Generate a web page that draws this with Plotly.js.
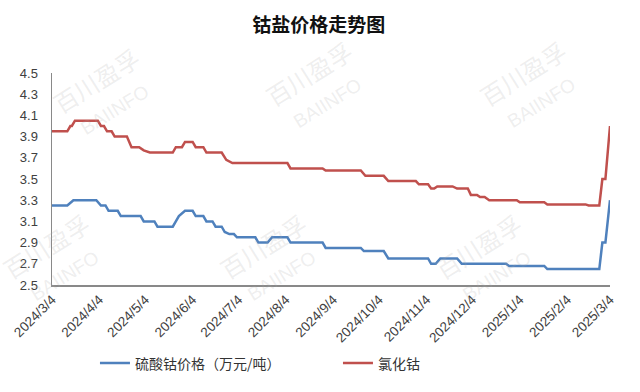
<!DOCTYPE html>
<html>
<head>
<meta charset="utf-8">
<script src="https://cdn.plot.ly/plotly-3.0.1.min.js"></script>
<style>
  html, body { margin: 0; padding: 0; background: #ffffff; }
  #chart { width: 640px; height: 392px; }
</style>
</head>
<body>
<div id="chart"></div>
<script>
// ---- Data ----
const chartTitle = "钴盐价格走势图";

const seriesNames = ["硫酸钴价格（万元/吨）", "氯化钴"];

// 硫酸钴 (cobalt sulfate) – change points
const sulfateDates = [
  "2024-03-04","2024-03-14","2024-03-18","2024-04-02","2024-04-05","2024-04-08",
  "2024-04-10","2024-04-16","2024-04-18","2024-05-01","2024-05-03","2024-05-10",
  "2024-05-12","2024-05-22","2024-05-24","2024-05-26","2024-05-30","2024-06-04",
  "2024-06-06","2024-06-11","2024-06-13","2024-06-17","2024-06-19","2024-06-23",
  "2024-06-25","2024-06-28","2024-07-01","2024-07-03","2024-07-15","2024-07-17",
  "2024-07-23","2024-07-26","2024-08-05","2024-08-07","2024-08-28","2024-08-30",
  "2024-09-22","2024-09-24","2024-10-07","2024-10-10","2024-11-05","2024-11-07",
  "2024-11-10","2024-11-13","2024-11-24","2024-11-27","2024-12-26","2024-12-28",
  "2025-01-20","2025-01-22","2025-02-25","2025-02-27","2025-03-01","2025-03-04"
];
const sulfateValues = [
  3.25,3.25,3.30,3.30,3.25,3.25,
  3.20,3.20,3.15,3.15,3.10,3.10,
  3.05,3.05,3.10,3.15,3.20,3.20,
  3.15,3.15,3.10,3.10,3.05,3.05,
  3.00,2.98,2.98,2.95,2.95,2.90,
  2.90,2.95,2.95,2.90,2.90,2.85,
  2.85,2.82,2.82,2.75,2.75,2.70,
  2.70,2.75,2.75,2.70,2.70,2.68,
  2.68,2.65,2.65,2.90,2.90,3.30
];

// 氯化钴 (cobalt chloride) – change points
const chlorideDates = [
  "2024-03-04","2024-03-14","2024-03-16","2024-03-17","2024-03-19","2024-04-03",
  "2024-04-05","2024-04-07","2024-04-09","2024-04-12","2024-04-14","2024-04-22",
  "2024-04-25","2024-04-30","2024-05-03","2024-05-07","2024-05-22","2024-05-24",
  "2024-05-28","2024-05-30","2024-06-04","2024-06-06","2024-06-11","2024-06-13",
  "2024-06-23","2024-06-26","2024-06-30","2024-08-05","2024-08-07","2024-08-28",
  "2024-08-30","2024-09-22","2024-09-25","2024-10-07","2024-10-10","2024-10-28",
  "2024-10-30","2024-11-05","2024-11-07","2024-11-09","2024-11-11","2024-11-21",
  "2024-11-24","2024-12-01","2024-12-03","2024-12-07","2024-12-09","2024-12-12",
  "2024-12-15","2025-01-02","2025-01-04","2025-01-20","2025-01-22","2025-02-16",
  "2025-02-18","2025-02-25","2025-02-27","2025-03-01","2025-03-04"
];
const chlorideValues = [
  3.95,3.95,4.00,4.00,4.05,4.05,
  4.00,4.00,3.95,3.95,3.90,3.90,
  3.80,3.80,3.77,3.75,3.75,3.80,
  3.80,3.85,3.85,3.80,3.80,3.75,
  3.75,3.68,3.65,3.65,3.60,3.60,
  3.58,3.58,3.53,3.53,3.48,3.48,
  3.45,3.45,3.41,3.41,3.43,3.43,
  3.41,3.41,3.35,3.35,3.33,3.33,
  3.30,3.30,3.28,3.28,3.26,3.26,
  3.25,3.25,3.50,3.50,4.00
];

// X-axis tick positions and labels
const tickDates = [
  "2024-03-04","2024-04-04","2024-05-04","2024-06-04","2024-07-04","2024-08-04",
  "2024-09-04","2024-10-04","2024-11-04","2024-12-04","2025-01-04","2025-02-04","2025-03-04"
];
const tickLabels = [
  "2024/3/4","2024/4/4","2024/5/4","2024/6/4","2024/7/4","2024/8/4",
  "2024/9/4","2024/10/4","2024/11/4","2024/12/4","2025/1/4","2025/2/4","2025/3/4"
];

const watermarkText = "百川盈孚<br><span style=\"font-size:19px\">BAIINFO</span>";

// ---- Styling ----
const blue = "#4F81BD";
const red = "#C0504D";
const axisColor = "#898989";
const textColor = "#404040";
const cjk = "'Noto Sans CJK SC', 'Noto Sans', sans-serif";

const traces = [
  {
    x: sulfateDates, y: sulfateValues, name: seriesNames[0],
    type: "scatter", mode: "lines",
    line: { color: blue, width: 2.5, shape: "linear" }
  },
  {
    x: chlorideDates, y: chlorideValues, name: seriesNames[1],
    type: "scatter", mode: "lines",
    line: { color: red, width: 2.5, shape: "linear" }
  }
];

const wmPos = [
  [0.095, 0.90], [0.477, 0.93], [0.860, 0.93],
  [0.005, 0.117], [0.394, 0.117], [0.780, 0.117]
];
const annotations = wmPos.map(p => ({
  xref: "paper", yref: "paper", x: p[0], y: p[1],
  xanchor: "center", yanchor: "middle",
  text: watermarkText, showarrow: false, textangle: -32,
  font: { family: "'Liberation Sans', 'Noto Sans CJK SC', sans-serif", size: 24, color: "rgba(170,170,170,0.2)" },
  align: "center"
}));

const layout = {
  width: 640, height: 392,
  paper_bgcolor: "#ffffff", plot_bgcolor: "#ffffff",
  margin: { l: 52, r: 30, t: 73, b: 105, pad: 0 },
  title: {
    text: "<b>" + chartTitle + "</b>",
    font: { family: cjk, size: 19, color: "#111111" },
    xref: "container", x: 0.498, xanchor: "center",
    yref: "container", y: 0.936, yanchor: "middle"
  },
  xaxis: {
    type: "date",
    range: ["2024-03-04", "2025-03-04"],
    tickmode: "array", tickvals: tickDates, ticktext: tickLabels,
    tickangle: -45,
    tickfont: { family: "'Liberation Sans', Arial, sans-serif", size: 13.5, color: textColor },
    showgrid: false, zeroline: false,
    showline: true, linecolor: axisColor, linewidth: 1.5,
    ticks: "", fixedrange: true
  },
  yaxis: {
    range: [2.5, 4.5],
    tickmode: "linear", tick0: 2.5, dtick: 0.2,
    tickformat: ".1f",
    tickfont: { family: "'Liberation Sans', Arial, sans-serif", size: 13, color: textColor },
    ticklabelstandoff: 10,
    showgrid: false, zeroline: false,
    showline: true, linecolor: axisColor, linewidth: 1.5,
    ticks: "", fixedrange: true
  },
  showlegend: true,
  legend: {
    orientation: "h",
    xref: "paper", x: 0.077, xanchor: "left",
    yref: "paper", y: -0.37, yanchor: "middle",
    font: { family: cjk, size: 14, color: "#333333" },
    bgcolor: "rgba(0,0,0,0)",
    entrywidth: 198, entrywidthmode: "pixels",
    traceorder: "normal"
  },
  annotations: annotations
};

Plotly.newPlot("chart", traces, layout, { displayModeBar: false, staticPlot: true });
</script>
</body>
</html>
